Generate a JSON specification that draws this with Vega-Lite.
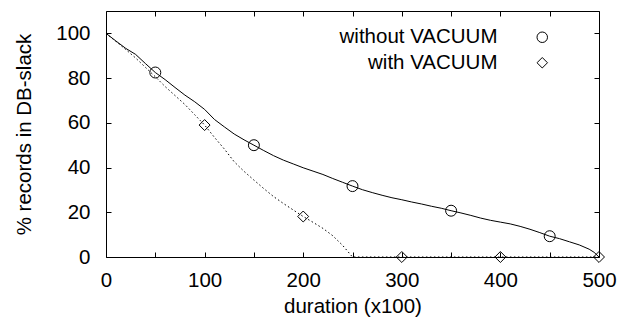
{
  "$schema": "https://vega.github.io/schema/vega-lite/v6.json",
  "width": 493,
  "height": 246,
  "autosize": {"type": "none"},
  "padding": {"left": 106, "top": 11, "right": 22, "bottom": 63},
  "background": "white",
  "datasets": {
    "lines": [
      {"series": "without VACUUM", "x": 0, "y": 100},
      {"series": "without VACUUM", "x": 10, "y": 96.6},
      {"series": "without VACUUM", "x": 20, "y": 93.3},
      {"series": "without VACUUM", "x": 30, "y": 90.6},
      {"series": "without VACUUM", "x": 40, "y": 86.5},
      {"series": "without VACUUM", "x": 50, "y": 82.5},
      {"series": "without VACUUM", "x": 60, "y": 79.3},
      {"series": "without VACUUM", "x": 70, "y": 75.8},
      {"series": "without VACUUM", "x": 80, "y": 72.4},
      {"series": "without VACUUM", "x": 90, "y": 69.4},
      {"series": "without VACUUM", "x": 100, "y": 66},
      {"series": "without VACUUM", "x": 110, "y": 61.5},
      {"series": "without VACUUM", "x": 120, "y": 58.2},
      {"series": "without VACUUM", "x": 130, "y": 55},
      {"series": "without VACUUM", "x": 140, "y": 52.4},
      {"series": "without VACUUM", "x": 150, "y": 50},
      {"series": "without VACUUM", "x": 160, "y": 47.6},
      {"series": "without VACUUM", "x": 170, "y": 45.3},
      {"series": "without VACUUM", "x": 180, "y": 43.3},
      {"series": "without VACUUM", "x": 190, "y": 41.6},
      {"series": "without VACUUM", "x": 200, "y": 39.9},
      {"series": "without VACUUM", "x": 210, "y": 38.4},
      {"series": "without VACUUM", "x": 220, "y": 36.9},
      {"series": "without VACUUM", "x": 230, "y": 35.1},
      {"series": "without VACUUM", "x": 240, "y": 33.4},
      {"series": "without VACUUM", "x": 250, "y": 31.7},
      {"series": "without VACUUM", "x": 260, "y": 30.1},
      {"series": "without VACUUM", "x": 270, "y": 28.8},
      {"series": "without VACUUM", "x": 280, "y": 27.6},
      {"series": "without VACUUM", "x": 290, "y": 26.5},
      {"series": "without VACUUM", "x": 300, "y": 25.6},
      {"series": "without VACUUM", "x": 310, "y": 24.6},
      {"series": "without VACUUM", "x": 320, "y": 23.7},
      {"series": "without VACUUM", "x": 330, "y": 22.7},
      {"series": "without VACUUM", "x": 340, "y": 21.8},
      {"series": "without VACUUM", "x": 350, "y": 20.7},
      {"series": "without VACUUM", "x": 360, "y": 19.7},
      {"series": "without VACUUM", "x": 370, "y": 18.6},
      {"series": "without VACUUM", "x": 380, "y": 17.4},
      {"series": "without VACUUM", "x": 390, "y": 16.4},
      {"series": "without VACUUM", "x": 400, "y": 15.6},
      {"series": "without VACUUM", "x": 410, "y": 14.8},
      {"series": "without VACUUM", "x": 420, "y": 13.7},
      {"series": "without VACUUM", "x": 430, "y": 12.4},
      {"series": "without VACUUM", "x": 440, "y": 10.9},
      {"series": "without VACUUM", "x": 450, "y": 9.3},
      {"series": "without VACUUM", "x": 460, "y": 8.2},
      {"series": "without VACUUM", "x": 470, "y": 6.8},
      {"series": "without VACUUM", "x": 480, "y": 5.4},
      {"series": "without VACUUM", "x": 490, "y": 3.5},
      {"series": "without VACUUM", "x": 495, "y": 2.1},
      {"series": "without VACUUM", "x": 500, "y": 0},
      {"series": "with VACUUM", "x": 0, "y": 100},
      {"series": "with VACUUM", "x": 10, "y": 96.4},
      {"series": "with VACUUM", "x": 20, "y": 92.8},
      {"series": "with VACUUM", "x": 30, "y": 89},
      {"series": "with VACUUM", "x": 40, "y": 84.8},
      {"series": "with VACUUM", "x": 50, "y": 80.6},
      {"series": "with VACUUM", "x": 60, "y": 76.2},
      {"series": "with VACUUM", "x": 70, "y": 72.2},
      {"series": "with VACUUM", "x": 80, "y": 68.2},
      {"series": "with VACUUM", "x": 90, "y": 63.6},
      {"series": "with VACUUM", "x": 100, "y": 59},
      {"series": "with VACUUM", "x": 110, "y": 53.5},
      {"series": "with VACUUM", "x": 120, "y": 48.3},
      {"series": "with VACUUM", "x": 130, "y": 42.6},
      {"series": "with VACUUM", "x": 140, "y": 38.3},
      {"series": "with VACUUM", "x": 150, "y": 34.4},
      {"series": "with VACUUM", "x": 160, "y": 30.6},
      {"series": "with VACUUM", "x": 170, "y": 27},
      {"series": "with VACUUM", "x": 180, "y": 23.9},
      {"series": "with VACUUM", "x": 190, "y": 21},
      {"series": "with VACUUM", "x": 200, "y": 18.1},
      {"series": "with VACUUM", "x": 210, "y": 15.5},
      {"series": "with VACUUM", "x": 220, "y": 12.8},
      {"series": "with VACUUM", "x": 230, "y": 9.5},
      {"series": "with VACUUM", "x": 240, "y": 5.2},
      {"series": "with VACUUM", "x": 250, "y": 0},
      {"series": "with VACUUM", "x": 500, "y": 0}
    ],
    "points": [
      {"series": "without VACUUM", "x": 50, "y": 82.5},
      {"series": "without VACUUM", "x": 150, "y": 50},
      {"series": "without VACUUM", "x": 250, "y": 31.7},
      {"series": "without VACUUM", "x": 350, "y": 20.7},
      {"series": "without VACUUM", "x": 450, "y": 9.3},
      {"series": "with VACUUM", "x": 100, "y": 59},
      {"series": "with VACUUM", "x": 200, "y": 18.1},
      {"series": "with VACUUM", "x": 300, "y": 0},
      {"series": "with VACUUM", "x": 400, "y": 0},
      {"series": "with VACUUM", "x": 500, "y": 0}
    ]
  },
  "config": {
    "view": {"stroke": "black", "strokeWidth": 1},
    "font": "Liberation Sans",
    "axis": {
      "grid": false,
      "domain": false,
      "tickColor": "black",
      "tickWidth": 1,
      "tickSize": -5,
      "labelFont": "Liberation Sans",
      "labelFontSize": 20.5,
      "labelColor": "black",
      "labelOverlap": false,
      "labelFlush": false,
      "labelBound": false,
      "titleFont": "Liberation Sans",
      "titleFontSize": 20.5,
      "titleFontWeight": "normal",
      "titleColor": "black"
    }
  },
  "layer": [
    {
      "data": {"name": "lines"},
      "transform": [{"filter": "datum.series == 'without VACUUM'"}],
      "mark": {"type": "line", "color": "black", "strokeWidth": 1},
      "encoding": {
        "x": {
          "field": "x", "type": "quantitative",
          "scale": {"domain": [0, 500], "nice": false},
          "axis": {
            "orient": "bottom",
            "values": [0, 50, 100, 150, 200, 250, 300, 350, 400, 450, 500],
            "labelExpr": "datum.value % 100 == 0 ? datum.label : ''",
            "labelPadding": 18,
            "title": "duration (x100)",
            "titlePadding": 6
          }
        },
        "y": {
          "field": "y", "type": "quantitative",
          "scale": {"domain": [0, 110], "nice": false},
          "axis": {
            "orient": "left",
            "values": [0, 20, 40, 60, 80, 100],
            "labelPadding": 21,
            "title": "% records in DB-slack",
            "titlePadding": 21
          }
        }
      }
    },
    {
      "data": {"name": "lines"},
      "transform": [{"filter": "datum.series == 'with VACUUM'"}],
      "mark": {"type": "line", "color": "black", "strokeWidth": 1, "strokeDash": [1.5, 2.5]},
      "encoding": {
        "x": {"field": "x", "type": "quantitative", "axis": null},
        "y": {"field": "y", "type": "quantitative", "axis": null}
      }
    },
    {
      "data": {"name": "points"},
      "mark": {"type": "point", "filled": false, "color": "black", "strokeWidth": 1, "size": 120, "opacity": 1},
      "encoding": {
        "x": {
          "field": "x", "type": "quantitative",
          "axis": {
            "orient": "top",
            "values": [0, 50, 100, 150, 200, 250, 300, 350, 400, 450, 500],
            "labels": false,
            "title": null
          }
        },
        "y": {
          "field": "y", "type": "quantitative",
          "axis": {
            "orient": "right",
            "values": [0, 20, 40, 60, 80, 100],
            "labels": false,
            "title": null
          }
        },
        "shape": {
          "field": "series", "type": "nominal",
          "scale": {"domain": ["without VACUUM", "with VACUUM"], "range": ["circle", "diamond"]},
          "legend": {
            "orient": "none",
            "legendX": 426,
            "legendY": 16,
            "title": null,
            "padding": 0,
            "labelAlign": "right",
            "labelOffset": -55,
            "labelFont": "Liberation Sans",
            "labelFontSize": 20.5,
            "labelColor": "black",
            "labelLimit": 0,
            "symbolStrokeColor": "black",
            "symbolFillColor": "transparent",
            "symbolSize": 110,
            "symbolStrokeWidth": 1,
            "rowPadding": 4.5
          }
        }
      }
    }
  ],
  "resolve": {"axis": {"x": "independent", "y": "independent"}}
}
